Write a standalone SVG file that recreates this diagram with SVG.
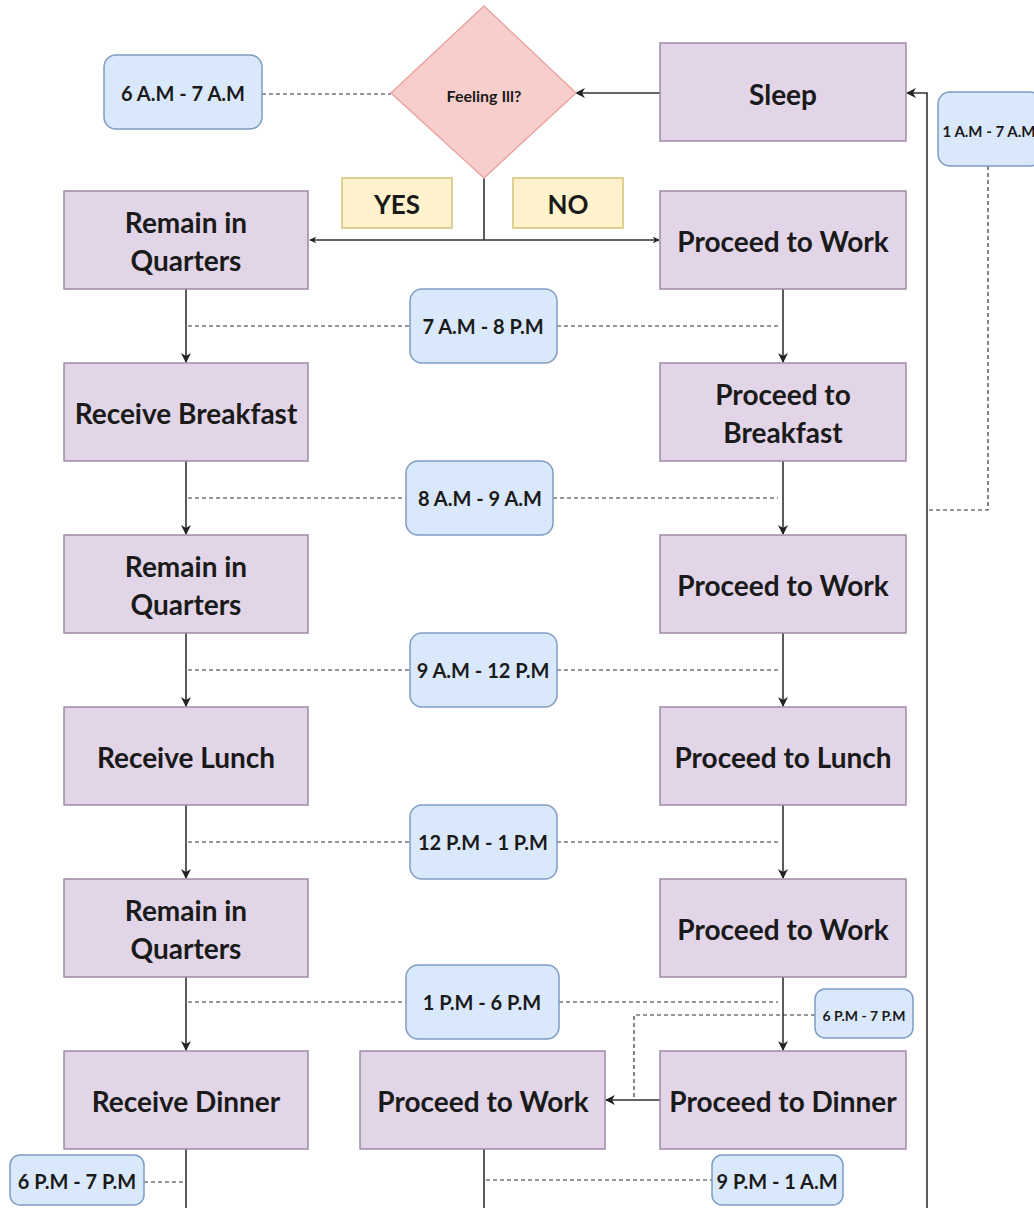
<svg xmlns="http://www.w3.org/2000/svg" width="1034" height="1208" viewBox="0 0 1034 1208">
<style>
.step{fill:#e1d5e7;stroke:#9e8aa8;stroke-width:1.5}
.time{fill:#dae8fc;stroke:#7f9cc4;stroke-width:1.5}
.tag{fill:#fff2cc;stroke:#d6c27a;stroke-width:1.5}
.dec{fill:#f8cecc;stroke:#e8a6a3;stroke-width:1.5}
text{font-family:Lato,"Open Sans","Liberation Sans",sans-serif;font-weight:bold;fill:#1a1a1a;text-anchor:middle;dominant-baseline:central}
.big{font-size:28px}
.mid{font-size:20px}
.sm{font-size:14px}
.dq{font-size:16px}
.yn{font-size:26px}
.flow{fill:none;stroke:#333;stroke-width:1.6}
.dash{fill:none;stroke:#333;stroke-width:1.2;stroke-dasharray:4 3}
</style>
<defs>
<marker id="arr" viewBox="0 0 10 10" refX="9" refY="5" markerWidth="7" markerHeight="7" markerUnits="userSpaceOnUse" orient="auto">
<path d="M0,0 L10,5 L0,10 L3,5 Z" fill="#222"/>
</marker>
<marker id="arrb" viewBox="0 0 10 10" refX="9" refY="5" markerWidth="10" markerHeight="10" markerUnits="userSpaceOnUse" orient="auto">
<path d="M0,0 L10,5 L0,10 L3,5 Z" fill="#222"/>
</marker>
</defs>

<g id="connectors">
<path class="dash" d="M262,94 H391"/>
<path class="dash" d="M988,166 V510 H928"/>
<path class="dash" d="M188,326 H410 M557,326 H778"/>
<path class="dash" d="M188,498 H406 M553,498 H778"/>
<path class="dash" d="M188,670 H410 M557,670 H778"/>
<path class="dash" d="M188,842 H410 M557,842 H778"/>
<path class="dash" d="M188,1002 H406 M559,1002 H778"/>
<path class="dash" d="M815,1015 H634 V1099"/>
<path class="dash" d="M144,1182 H185"/>
<path class="dash" d="M486,1180 H712"/>
<path class="flow" d="M660,93 H576" marker-end="url(#arrb)"/>
<path class="flow" d="M927,1208 V93 H907" marker-end="url(#arrb)"/>
<path class="flow" d="M484,178 V240"/>
<path class="flow" d="M484,240 H310" marker-end="url(#arr)"/>
<path class="flow" d="M484,240 H659" marker-end="url(#arr)"/>
<path class="flow" d="M186,289 V362" marker-end="url(#arrb)"/>
<path class="flow" d="M186,461 V534" marker-end="url(#arrb)"/>
<path class="flow" d="M186,633 V706" marker-end="url(#arrb)"/>
<path class="flow" d="M186,805 V878" marker-end="url(#arrb)"/>
<path class="flow" d="M186,977 V1050" marker-end="url(#arrb)"/>
<path class="flow" d="M783,289 V362" marker-end="url(#arrb)"/>
<path class="flow" d="M783,461 V534" marker-end="url(#arrb)"/>
<path class="flow" d="M783,633 V706" marker-end="url(#arrb)"/>
<path class="flow" d="M783,805 V878" marker-end="url(#arrb)"/>
<path class="flow" d="M783,977 V1050" marker-end="url(#arrb)"/>
<path class="flow" d="M660,1100 H606" marker-end="url(#arrb)"/>
<path class="flow" d="M186,1149 V1208"/>
<path class="flow" d="M484,1149 V1208"/>
</g>

<g id="t-6am"><rect class="time" x="104" y="55" width="158" height="74" rx="12"/><text class="mid" x="183" y="93">6 A.M - 7 A.M</text></g>
<g id="feeling-ill"><polygon class="dec" points="484,6 576,93 484,178 391,93"/><text class="dq" x="484" y="95">Feeling Ill?</text></g>
<g id="sleep"><rect class="step" x="660" y="43" width="246" height="98"/><text class="big" x="783" y="94">Sleep</text></g>
<g id="t-1am"><rect class="time" x="938" y="92" width="104" height="74" rx="12"/><text class="sm" x="989" y="131" style="font-size:15px">1 A.M - 7 A.M</text></g>
<g id="yes"><rect class="tag" x="342" y="178" width="110" height="50"/><text class="yn" x="397" y="204">YES</text></g>
<g id="no"><rect class="tag" x="513" y="178" width="110" height="50"/><text class="yn" x="568" y="204">NO</text></g>

<g id="l1"><rect class="step" x="64" y="191" width="244" height="98"/><text class="big" x="186" y="222">Remain in</text><text class="big" x="186" y="260">Quarters</text></g>
<g id="r1"><rect class="step" x="660" y="191" width="246" height="98"/><text class="big" x="783" y="241">Proceed to Work</text></g>
<g id="t-7am"><rect class="time" x="410" y="289" width="147" height="74" rx="12"/><text class="mid" x="483" y="326">7 A.M - 8 P.M</text></g>

<g id="l2"><rect class="step" x="64" y="363" width="244" height="98"/><text class="big" x="186" y="413">Receive Breakfast</text></g>
<g id="r2"><rect class="step" x="660" y="363" width="246" height="98"/><text class="big" x="783" y="394">Proceed to</text><text class="big" x="783" y="432">Breakfast</text></g>
<g id="t-8am"><rect class="time" x="406" y="461" width="147" height="74" rx="12"/><text class="mid" x="480" y="498">8 A.M - 9 A.M</text></g>

<g id="l3"><rect class="step" x="64" y="535" width="244" height="98"/><text class="big" x="186" y="566">Remain in</text><text class="big" x="186" y="604">Quarters</text></g>
<g id="r3"><rect class="step" x="660" y="535" width="246" height="98"/><text class="big" x="783" y="585">Proceed to Work</text></g>
<g id="t-9am"><rect class="time" x="410" y="633" width="147" height="74" rx="12"/><text class="mid" x="483" y="670">9 A.M - 12 P.M</text></g>

<g id="l4"><rect class="step" x="64" y="707" width="244" height="98"/><text class="big" x="186" y="757">Receive Lunch</text></g>
<g id="r4"><rect class="step" x="660" y="707" width="246" height="98"/><text class="big" x="783" y="757">Proceed to Lunch</text></g>
<g id="t-12pm"><rect class="time" x="410" y="805" width="147" height="74" rx="12"/><text class="mid" x="483" y="842">12 P.M - 1 P.M</text></g>

<g id="l5"><rect class="step" x="64" y="879" width="244" height="98"/><text class="big" x="186" y="910">Remain in</text><text class="big" x="186" y="948">Quarters</text></g>
<g id="r5"><rect class="step" x="660" y="879" width="246" height="98"/><text class="big" x="783" y="929">Proceed to Work</text></g>
<g id="t-1pm"><rect class="time" x="406" y="965" width="153" height="74" rx="12"/><text class="mid" x="482" y="1002">1 P.M - 6 P.M</text></g>
<g id="t-6pm-r"><rect class="time" x="815" y="989" width="98" height="49" rx="10"/><text class="sm" x="864" y="1015">6 P.M - 7 P.M</text></g>

<g id="l6"><rect class="step" x="64" y="1051" width="244" height="98"/><text class="big" x="186" y="1101">Receive Dinner</text></g>
<g id="m6"><rect class="step" x="360" y="1051" width="245" height="98"/><text class="big" x="483" y="1101">Proceed to Work</text></g>
<g id="r6"><rect class="step" x="660" y="1051" width="246" height="98"/><text class="big" x="783" y="1101">Proceed to Dinner</text></g>
<g id="t-6pm-l"><rect class="time" x="10" y="1155" width="134" height="50" rx="10"/><text class="mid" x="77" y="1181">6 P.M - 7 P.M</text></g>
<g id="t-9pm"><rect class="time" x="712" y="1155" width="131" height="50" rx="10"/><text class="mid" x="777" y="1181">9 P.M - 1 A.M</text></g>
</svg>
